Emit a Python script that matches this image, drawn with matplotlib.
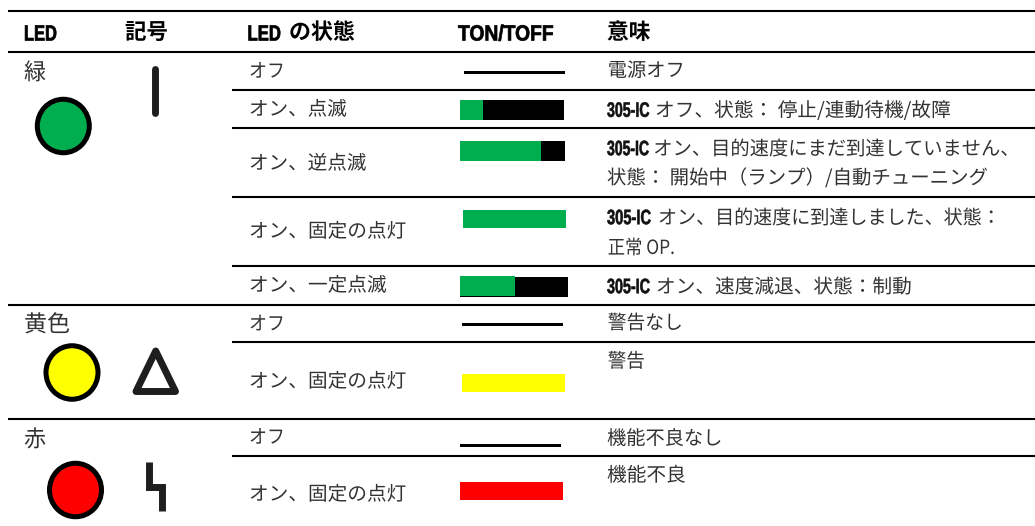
import matplotlib
matplotlib.use("Agg")
import matplotlib.pyplot as plt
from matplotlib.patches import Ellipse, Polygon
from matplotlib.patheffects import AbstractPathEffect
from matplotlib.transforms import Affine2D

plt.rcParams['font.family'] = ['Noto Sans CJK JP', 'DejaVu Sans']

W, H = 1035, 526
LATIN = ['Liberation Sans', 'Noto Sans CJK JP']
CJK = ['Noto Sans CJK JP', 'DejaVu Sans']
TXT = '#333333'
GREEN = '#00ae4f'
YELLOW = '#ffff00'
RED = '#ff0000'
DARK = '#1e1e1e'

# ---- data ----
header_latin = ['LED', 'LED', 'TON/TOFF']
header_cjk = ['記号', 'の状態', '意味']
led_names = ['緑', '黄色', '赤']
led_colors = [GREEN, YELLOW, RED]
states = ['オフ', 'オン、点滅', 'オン、逆点滅', 'オン、固定の点灯', 'オン、一定点滅',
          'オフ', 'オン、固定の点灯', 'オフ', 'オン、固定の点灯']
on_fraction = [0.0, 0.22, 0.77, 1.0, 0.51, 0.0, 1.0, 0.0, 1.0]
bar_colors = [None, GREEN, GREEN, GREEN, GREEN, None, YELLOW, None, RED]
prefix = '305-IC'
meanings = ['電源オフ',
            'オフ、状態： 停止/連動待機/故障',
            'オン、目的速度にまだ到達していません、',
            '状態： 開始中（ランプ）/自動チューニング',
            'オン、目的速度に到達しました、状態：',
            '正常 OP.',
            'オン、速度減退、状態：制動',
            '警告なし',
            '警告',
            '機能不良なし',
            '機能不良']


class Squeeze(AbstractPathEffect):
    """Scale a text about its own origin (left aligned text), with an optional thin stroke."""
    def __init__(self, sx, sy=1.0, stroke=0.0):
        super().__init__()
        self.sx, self.sy, self.stroke = sx, sy, stroke

    def draw_path(self, renderer, gc, tpath, affine, rgbFace=None):
        gc0 = renderer.new_gc()
        gc0.copy_properties(gc)
        gc0.set_linewidth(self.stroke)
        if self.stroke and rgbFace is not None:
            gc0.set_foreground(rgbFace)
        renderer.draw_path(gc0, tpath, Affine2D().scale(self.sx, self.sy) + affine, rgbFace)
        gc0.restore()


fig = plt.figure(figsize=(W / 100, H / 100), dpi=100, facecolor='white')
ax = fig.add_axes([0, 0, 1, 1])
ax.set_xlim(0, W)
ax.set_ylim(H, 0)
ax.axis('off')
rend = fig.canvas.get_renderer()


def put(x0, x1, yb, s, family, size, color, weight='normal', sy=1.0, stroke=0.0):
    t = ax.text(x0, yb, s, family=family, fontsize=size, color=color, weight=weight,
                va='baseline', ha='left')
    t.set_path_effects([Squeeze((x1 - x0) / t.get_window_extent(rend).width, sy, stroke)])
    return t


# rules
for y in [11, 52, 304.5, 419]:
    ax.plot([8, W], [y, y], color='black', lw=1.5, solid_capstyle='butt')
for y in [90, 128, 197, 266, 342, 456]:
    ax.plot([232, W], [y, y], color='black', lw=1.5, solid_capstyle='butt')

# header
for (x0, x1), s in zip([(24, 57), (247.5, 281), (458, 554)], header_latin):
    put(x0, x1, 40.5, s, LATIN, 15.8, 'black', 'bold', stroke=0.5)
for (x0, x1), s in zip([(125, 168), (289, 355), (607, 650.5)], header_cjk):
    put(x0, x1, 39, s, CJK, 15.8, 'black', 'bold')

# LED names and lamps
for (x0, x1), yc, s in zip([(24, 46), (24, 70), (24, 46)], [71, 323, 438], led_names):
    put(x0, x1, yc + 8.5, s, CJK, 16.5, TXT)
for (cx, cy), c in zip([(63.3, 126), (72, 372.5), (75.5, 490)], led_colors):
    ax.add_patch(Ellipse((cx, cy), 52, 53.5, fc=c, ec='black', lw=3.6))

# symbols
ax.plot([155, 155], [68.5, 112.5], color=DARK, lw=5, solid_capstyle='round')
ax.add_patch(Polygon([[155.7, 351], [136, 391.5], [175.5, 391.5]], closed=True, fc='none',
                     ec=DARK, lw=5, joinstyle='round'))
ax.plot([149, 149, 162, 162], [462, 486.5, 486.5, 511], color=DARK, lw=5,
        solid_joinstyle='miter', solid_capstyle='butt')

# states
state_yc = [70, 108, 162, 230, 284, 322.7, 380, 436, 493]
state_x1 = [285, 347, 366.7, 406.7, 387, 285, 406.7, 285, 406.7]
for yc, x1, s in zip(state_yc, state_x1, states):
    put(249, x1, yc + 7.2, s, CJK, 14, TXT)

# TON/TOFF
bar_x0 = [464, 460, 460, 463, 460, 462, 462, 460, 460]
bar_x1 = [564.5, 564, 565, 566, 568, 562.6, 565, 561, 563]
bar_top = [71, 100, 141, 210, 276, 323.3, 374, 444.3, 482]
bar_bot = [74, 120, 161, 228, 296, 326.3, 392, 447.3, 500]
black_dy = [0, 0, 0, 0, 1, 0, 0, 0, 0]
for x0, x1, t, b, f, c, dy in zip(bar_x0, bar_x1, bar_top, bar_bot, on_fraction, bar_colors, black_dy):
    yc, h, w = (t + b) / 2, b - t, x1 - x0
    if f < 1:
        ax.barh(yc + dy, w, height=h, left=x0, color='black', linewidth=0)
    if f > 0:
        ax.barh(yc, w * f, height=h, left=x0, color=c, linewidth=0)

# meanings
mean_x0 = [607.7, 655, 653.3, 607, 658, 607.7, 656, 607.7, 607.7, 607, 607]
mean_x1 = [685, 951.6, 1020.6, 989, 1001.7, 675, 912.5, 683, 645, 722.7, 686]
mean_yc = [69.3, 109.3, 147.7, 176.7, 216.7, 246.7, 285.7, 321.7, 360, 437.3, 474]
for x0, x1, yc, s in zip(mean_x0, mean_x1, mean_yc, meanings):
    put(x0, x1, yc + 7.2, s, CJK, 14, TXT)

# the narrow label: set small so its extent is its true width, then stretched in height
for x1, yc in zip([649.5, 649, 651, 650], [109.3, 147.7, 216.7, 285.7]):
    put(607, x1, yc + 7.5, prefix, LATIN, 10.3, '#111111', 'bold', sy=1.46, stroke=0.4)

fig.savefig('out.png', dpi=100)
